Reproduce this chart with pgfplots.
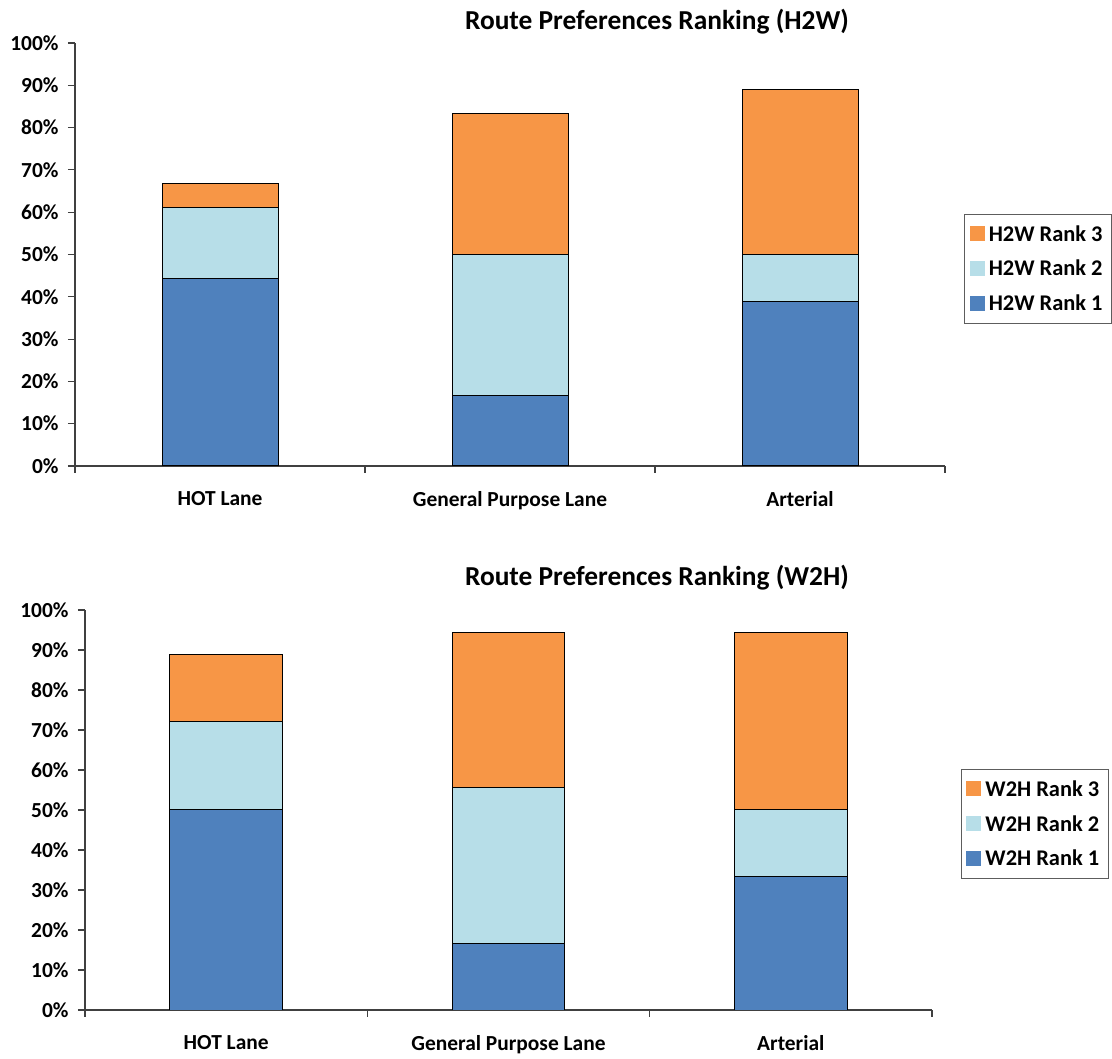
\documentclass[border=0pt]{standalone}
\usepackage{pgfplots}
\pgfplotsset{compat=1.18}
\usepackage{fontspec}
\setmainfont{Carlito}

\definecolor{rankone}{HTML}{4F81BD}
\definecolor{ranktwo}{HTML}{B7DEE8}
\definecolor{rankthree}{HTML}{F79646}
\definecolor{axgray}{HTML}{404040}

\newcommand{\lblfont}{\bfseries\fontsize{21.5}{25}\selectfont}
\newcommand{\legfont}{\bfseries\fontsize{22.5}{26}\selectfont}
\newcommand{\ttlfont}{\bfseries\fontsize{27.5}{32}\selectfont}

\pgfplotsset{
  routechart/.style={
    scale only axis,
    ybar stacked,
    bar width=0.4,
    xmin=0.5, xmax=3.5, ymin=0, ymax=100,
    axis lines*=left,
    axis line style={axgray, line width=1.3bp},
    tick align=outside,
    tick style={axgray, line width=1.1bp},
    xtick={1,2,3},
    xticklabels={HOT Lane, General Purpose Lane, Arterial},
    major x tick style={draw=none},
    minor xtick={0.5,1.5,2.5,3.5},
    minor tick length=7bp,
    major tick length=7bp,
    ytick={0,10,...,100},
    yticklabel={\pgfmathprintnumber{\tick}\%},
    /pgf/number format/assume math mode=true,
    ticklabel style={font=\lblfont},
    xticklabel style={yshift=-15bp},
    yticklabel style={xshift=-6bp},
    every axis plot/.append style={draw=black, line width=1bp},
    reverse legend,
    legend cell align=left,
    legend style={font=\legfont, draw=axgray!85, line width=1.3bp,
      anchor=north west, row sep=13.5bp, inner xsep=5bp, inner ysep=9bp,
      nodes={inner xsep=4bp}},
    legend image code/.code={\fill[##1,draw=none] (2bp,-7bp) rectangle (17bp,8bp);},
  }
}

\begin{document}
\begin{tikzpicture}
\path[use as bounding box] (0,0) rectangle (1112bp,1059bp);

% Home to work
\begin{axis}[routechart, at={(75bp,593bp)}, anchor=south west,
  width=870bp, height=423bp,
  legend style={at={(1.022,0.596)}}]
\addplot[fill=rankone] coordinates {(1,44.44) (2,16.67) (3,38.89)};
\addplot[fill=ranktwo] coordinates {(1,16.67) (2,33.33) (3,11.11)};
\addplot[fill=rankthree] coordinates {(1,5.56) (2,33.33) (3,38.89)};
\legend{H2W Rank 1, H2W Rank 2, H2W Rank 3}
\end{axis}
\node at (657bp,1037bp) {\ttlfont Route Preferences Ranking (H2W)};

% Work to home
\begin{axis}[routechart, at={(85bp,49bp)}, anchor=south west,
  width=847bp, height=400bp,
  legend style={at={(1.034,0.6025)}}]
\addplot[fill=rankone] coordinates {(1,50.00) (2,16.67) (3,33.33)};
\addplot[fill=ranktwo] coordinates {(1,22.22) (2,38.89) (3,16.67)};
\addplot[fill=rankthree] coordinates {(1,16.67) (2,38.89) (3,44.44)};
\legend{W2H Rank 1, W2H Rank 2, W2H Rank 3}
\end{axis}
\node at (657bp,481bp) {\ttlfont Route Preferences Ranking (W2H)};
\end{tikzpicture}
\end{document}
